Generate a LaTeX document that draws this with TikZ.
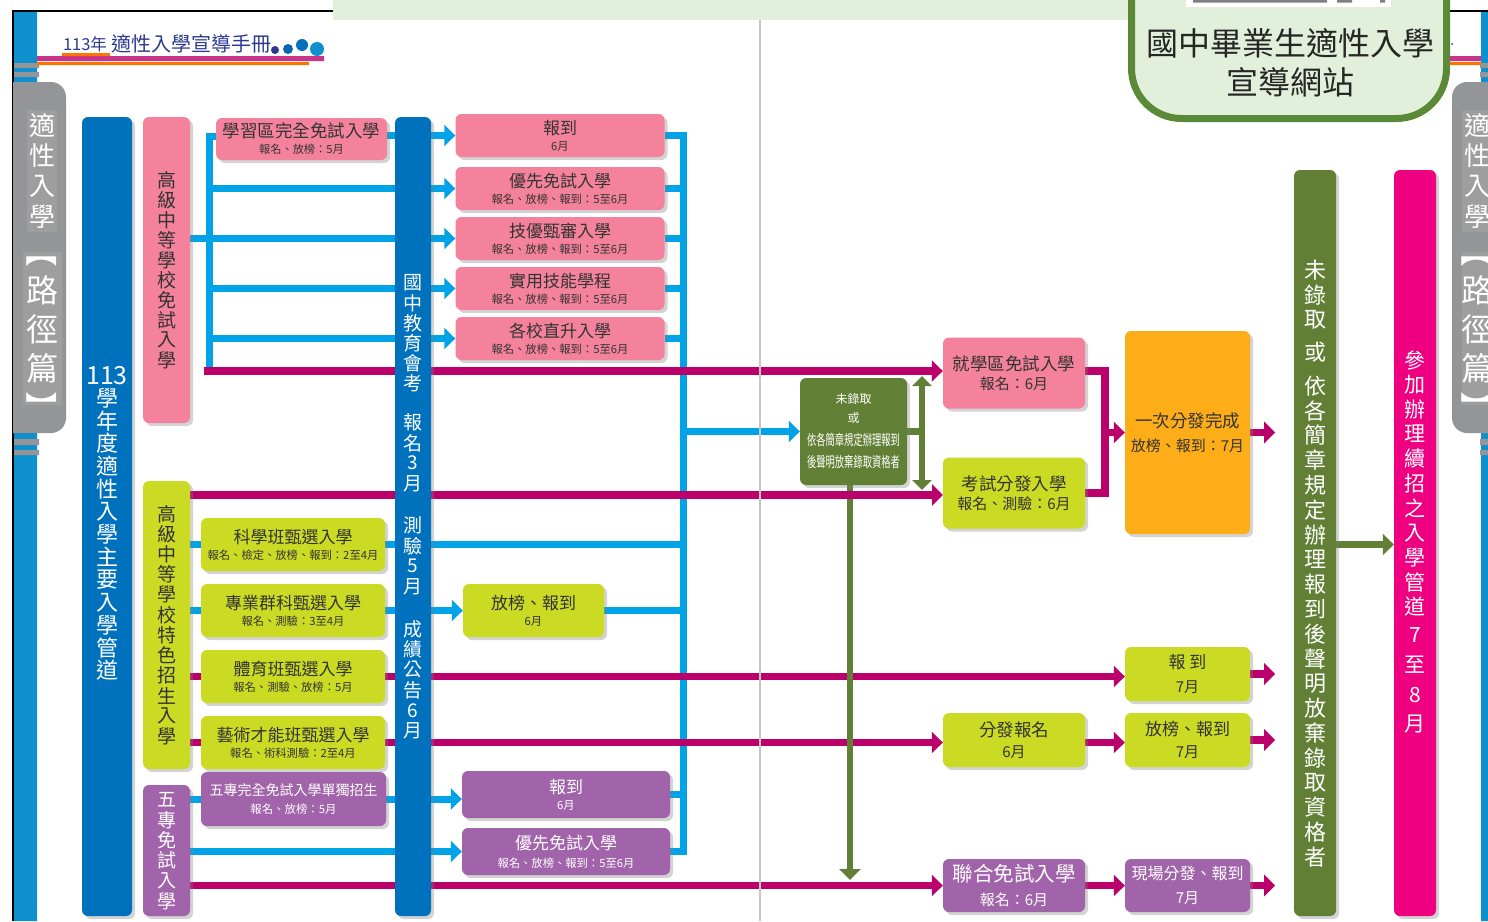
\documentclass[tikz,border=0pt]{standalone}
\usepackage{fontspec}
\setmainfont{Noto Sans CJK TC}
\usetikzlibrary{arrows.meta,backgrounds,shadows}

\definecolor{wireblue}{HTML}{00A3E8}
\definecolor{wirepink}{HTML}{BB006B}
\definecolor{wiregreen}{HTML}{628035}
\definecolor{colblue}{HTML}{0071BC}
\definecolor{boxpink}{HTML}{F4829C}
\definecolor{boxlime}{HTML}{CBDB24}
\definecolor{boxpurple}{HTML}{A163A9}
\definecolor{boxorange}{HTML}{FDAD17}
\definecolor{colpink}{HTML}{EE0080}
\definecolor{tabgray}{HTML}{949598}
\definecolor{tablight}{HTML}{9E9E9F}
\definecolor{stripblue}{HTML}{0E90CF}
\definecolor{titlegreen}{HTML}{E2EFDA}
\definecolor{titleedge}{HTML}{5A8A38}
\definecolor{logoblue}{HTML}{2B3990}

\makeatletter
\newcommand\vstack[2]{\vbox{\offinterlineskip\@tfor\vch:=#2\do{\vbox to #1{\vss\hbox to #1{\hss\vch\hss}\vss}}}}
\makeatother
\newcommand\sizept[1]{\fontsize{#1}{#1}\selectfont}
\newcommand\entry[5][4pt]{{\sizept{#2}#3}\\[#1]{\sizept{#4}#5}}

\begin{document}
\begin{tikzpicture}[x=1pt,y=-1pt,
  boxnode/.style={rectangle,rounded corners=6pt,inner sep=0pt,align=center,text=black!80,
    drop shadow={shadow xshift=3pt,shadow yshift=-3pt,fill=gray,opacity=.35}},
  pinkbox/.style={boxnode,fill=boxpink},
  limebox/.style={boxnode,fill=boxlime},
  purplebox/.style={boxnode,fill=boxpurple,text=white},
  sized/.style n args={2}{minimum width=#1,minimum height=#2},
  collabel/.style={inner sep=0pt,text=white},
  tablabel/.style={inner sep=0pt,text=white},
  bluewire/.style={draw=wireblue,line width=7pt},
  bluearrow/.style={bluewire,-{Triangle[length=11pt,width=21pt]}},
  pinkwire/.style={draw=wirepink,line width=7.5pt},
  pinkarrow/.style={pinkwire,-{Triangle[length=11pt,width=21pt]}},
  greenwire/.style={draw=wiregreen,line width=6.5pt},
  greenarrow/.style={greenwire,-{Triangle[length=11pt,width=21pt]}}]
\useasboundingbox (0,0) rectangle (1488,921);

% page furniture
\fill[stripblue] (14,12) rectangle (37,921) (1481,12) rectangle (1488,921);
\fill[tabgray] (14,63) rectangle (39,68) (14,72) rectangle (39,77)
  (14,439) rectangle (39,445) (14,450) rectangle (39,455)
  (1480,63) rectangle (1488,68) (1480,72) rectangle (1488,77)
  (1480,439) rectangle (1488,445) (1480,450) rectangle (1488,455);
\draw[black,line width=1.5pt] (13,921) -- (13,11) -- (334,11) (1450,11) -- (1488,11);
\fill[tabgray] (13,82) [rounded corners=15pt] -- (66,82) -- (66,433) [sharp corners] -- (13,433) -- cycle;
\fill[tabgray] (1488,82) [rounded corners=15pt] -- (1452,82) -- (1452,433) [sharp corners] -- (1488,433) -- cycle;
\fill[tablight] (27,110) rectangle (57,232) (23,252) rectangle (62,405)
  (1462,110) rectangle (1488,232) (1462,252) rectangle (1488,405);
\fill[wirepink!80] (37,56) rectangle (324,61) (1450,56) rectangle (1481,61);
\fill[orange!90!red] (37,62) rectangle (309,65) (62,53) rectangle (110,56) (1450,62) rectangle (1481,65);
\fill[logoblue] (275,50) circle (4) (1452,44) circle (1);
\fill[colblue!80!logoblue] (288,49) circle (5);
\fill[colblue] (302,45) circle (6);
\fill[stripblue] (317,49) circle (7);

\path
(85,44) node[inner sep=0pt,text=logoblue,font=\sizept{16.5}] (logoyear) {113年}
(191,44) node[inner sep=0pt,text=logoblue,font=\sizept{20}] (logotitle) {適性入學宣導手冊}

(42,171) node[tablabel,font=\sizept{26}] (tabtop) {\vstack{30.5pt}{適性入學}}
(42,329) node[tablabel,font=\sizept{32}] (tabpath) {\vstack{39pt}{{\rotatebox{-90}{【}}路徑篇{\rotatebox{-90}{】}}}}
(1477,171) node[tablabel,font=\sizept{26}] (tabtopr) {\vstack{30.5pt}{適性入學}}
(1477,329) node[tablabel,font=\sizept{32}] (tabpathr) {\vstack{39pt}{{\rotatebox{-90}{【}}路徑篇{\rotatebox{-90}{】}}}};

% title banner
\fill[titlegreen] (333,0) rectangle (1130,20);
\fill[titlegreen,draw=titleedge,line width=7pt,rounded corners=50pt] (1131.5,-80) rectangle (1446.5,118.5);
\fill[white] (1186,0) rectangle (1391,7);
\fill[gray] (1193,0) rectangle (1327,2.5) (1337,0) rectangle (1352,2.5) (1380,0) rectangle (1385,2.5);
\path
(1290,43) node[inner sep=0pt,text=black!85,font=\sizept{32}] (bannerone) {國中畢業生適性入學}
(1290,82) node[inner sep=0pt,text=black!85,font=\sizept{32}] (bannertwo) {宣導網站};

\path
% columns
(107,516.5) node[boxnode,fill=colblue,sized={50pt}{799pt}] (maincol) {}
(413,516.5) node[boxnode,fill=colblue,sized={36pt}{799pt}] (midcol) {}
(166.5,270) node[pinkbox,sized={47pt}{306pt},font=\sizept{19}] (col2) {\vstack{20pt}{高級中等學校免試入學}}
(166.5,625) node[limebox,sized={47pt}{288pt},font=\sizept{19}] (col3) {\vstack{20.2pt}{高級中等學校特色招生入學}}
(166.5,850.5) node[purplebox,sized={47pt}{131pt},font=\sizept{19}] (col4) {\raisebox{-2pt}{\vstack{20.2pt}{五專免試入學}}}
(1315,543) node[boxnode,fill=wiregreen,sized={42pt}{746pt}] (tallgreen) {}
(1415,543) node[boxnode,fill=colpink,sized={42pt}{746pt}] (tallpink) {}

(107,523) node[collabel,font=\sizept{22}] (mainlabel) {\vstack{22.7pt}{{\sizept{25}113}學年度適性入學主要入學管道}}
(413,333) node[collabel,font=\sizept{19}] (midone) {\vstack{20pt}{國中教育會考}}
(413,453) node[collabel,font=\sizept{19}] (midtwo) {\vstack{20.3pt}{報名3月}}
(413,556) node[collabel,font=\sizept{19}] (midthree) {\vstack{20.3pt}{測驗5月}}
(413,680) node[collabel,font=\sizept{19}] (midfour) {\vstack{20.3pt}{成績公告6月}}
(1315,295) node[collabel,font=\sizept{22}] (greenone) {\vstack{24.7pt}{未錄取}}
(1315,352) node[collabel,font=\sizept{22}] (greentwo) {或}
(1315,621.5) node[collabel,font=\sizept{22}] (greenthree) {\vstack{24.8pt}{依各簡章規定辦理報到後聲明放棄錄取資格者}}
(1415,483.5) node[collabel,font=\sizept{21}] (pinkone) {\vstack{24.7pt}{參加辦理續招之入學管道}}
(1415,680) node[collabel,font=\sizept{21}] (pinktwo) {\vstack{29.7pt}{7至8月}}

% free-admission boxes
(301.5,139) node[pinkbox,sized={171pt}{42pt}] (xuexi) {\entry{17.5}{學習區完全免試入學}{11.2}{報名、放榜：5月}}
(560,135.5) node[pinkbox,sized={209pt}{43pt}] (r1) {\entry{17}{報到}{11.3}{6月}}
(560,188.5) node[pinkbox,sized={209pt}{43pt}] (r2) {\entry{17}{優先免試入學}{11.3}{報名、放榜、報到：5至6月}}
(560,238.5) node[pinkbox,sized={209pt}{43pt}] (r3) {\entry{17}{技優甄審入學}{11.3}{報名、放榜、報到：5至6月}}
(560,288.5) node[pinkbox,sized={209pt}{43pt}] (r4) {\entry{17}{實用技能學程}{11.3}{報名、放榜、報到：5至6月}}
(560,338.5) node[pinkbox,sized={209pt}{43pt}] (r5) {\entry{17}{各校直升入學}{11.3}{報名、放榜、報到：5至6月}}

% special-entry boxes
(293,544.5) node[limebox,sized={184pt}{53pt}] (s1) {\entry{17}{科學班甄選入學}{11.3}{報名、檢定、放榜、報到：2至4月}}
(293,610.5) node[limebox,sized={184pt}{53pt}] (s2) {\entry{17}{專業群科甄選入學}{11.3}{報名、測驗：3至4月}}
(293,676.5) node[limebox,sized={184pt}{53pt}] (s3) {\entry{17}{體育班甄選入學}{11.3}{報名、測驗、放榜：5月}}
(293,742.5) node[limebox,sized={184pt}{53pt}] (s4) {\entry{17}{藝術才能班甄選入學}{11.3}{報名、術科測驗：2至4月}}
(533.5,610.5) node[limebox,sized={141pt}{53pt}] (fang) {\entry{17}{放榜、報到}{11.3}{6月}}

% five-year boxes
(293.5,799) node[purplebox,sized={185pt}{54pt}] (p0) {\entry[6pt]{14}{五專完全免試入學單獨招生}{11.4}{報名、放榜：5月}}
(566,794.5) node[purplebox,sized={208pt}{47pt}] (p1) {\entry{17}{報到}{11.3}{6月}}
(566,851.5) node[purplebox,sized={208pt}{47pt}] (p2) {\entry[6pt]{17}{優先免試入學}{11.3}{報名、放榜、報到：5至6月}}

% right half
(853.5,431.5) node[boxnode,fill=wiregreen,text=white,sized={107pt}{107pt}] (nopass)
  {\sizept{12}未錄取\\[7pt]\sizept{12}或\\[8pt]\scalebox{.64}[1]{\sizept{14.5}依各簡章規定辦理報到}\\[8pt]\scalebox{.64}[1]{\sizept{14.5}後聲明放棄錄取資格者}}
(1014,373) node[pinkbox,sized={142pt}{71pt}] (jiu) {\entry{17.5}{就學區免試入學}{15}{報名：6月}}
(1014,493) node[limebox,sized={142pt}{71pt}] (kao) {\entry{17.5}{考試分發入學}{15}{報名、測驗：6月}}
(1187.5,432.5) node[boxnode,fill=boxorange,sized={125pt}{203pt}] (once) {\entry[9pt]{17.5}{一次分發完成}{15}{放榜、報到：7月}}
(1187.5,674) node[limebox,sized={125pt}{54pt}] (bao) {\entry[9pt]{17}{報 到}{15}{7月}}
(1187.5,740) node[limebox,sized={125pt}{54pt}] (fang2) {\entry[7pt]{17}{放榜、報到}{15}{7月}}
(1014,740) node[limebox,sized={142pt}{54pt}] (fen) {\entry[7pt]{17.5}{分發報名}{15}{6月}}
(1014,885.5) node[purplebox,sized={142pt}{53pt}] (lian) {\entry[8pt]{20.5}{聯合免試入學}{15}{報名：6月}}
(1187.5,885.5) node[purplebox,sized={125pt}{53pt}] (xian) {\entry[10pt]{16}{現場分發、報到}{15}{7月}}
;

\coordinate (busleft) at (209,136);
\coordinate (busleftend) at (209,371);
\coordinate (busright) at (683,136);
\coordinate (magstart) at (204,371);
\coordinate (rowkao) at (943,495);
\coordinate (elbow) at (1105,432.5);
\coordinate (uptop) at (922,376);
\coordinate (upend) at (922,490);
\coordinate (downend) at (850,880);
\foreach \name in {once,bao,fang2,xian}
  \path (\name.east) ++(25,0) coordinate (\name-out);

\begin{scope}[on background layer]
% blue first
\draw[bluewire] (xuexi.west |- busleft) -- (busleft) -- (busleftend);
\draw[bluewire] (xuexi.east |- r1) -- (midcol.west |- r1);
\foreach \name in {r2,r4,r5}
  \draw[bluewire] (busleft |- \name) -- (midcol.west |- \name);
\draw[bluewire] (col2.east |- r3) -- (midcol.west |- r3);
\foreach \name in {r1,r2,r3,r4,r5}{
  \draw[bluearrow] (midcol.east |- \name) -- (\name.west);
  \draw[bluewire] (\name.east) -- (\name.east -| busright);
}
\draw[bluewire] (r1.east) -| (busright |- p2) -- (p2.east);
\draw[bluearrow] (busright |- nopass) -- (nopass.west);
\draw[bluewire] (col3.east |- s1) -- (s1.west);
\draw[bluewire] (s1.east) -- (midcol.west |- s1);
\draw[bluewire] (midcol.east |- s1) -- (busright |- s1);
\draw[bluewire] (col3.east |- s2) -- (s2.west);
\draw[bluewire] (s2.east) -- (midcol.west |- s2);
\draw[bluearrow] (midcol.east |- s2) -- (fang.west);
\draw[bluewire] (fang.east) -- (busright |- fang);
\draw[bluewire] (col4.east |- p0) -- (p0.west);
\draw[bluewire] (p0.east) -- (midcol.west |- p0);
\draw[bluearrow] (midcol.east |- p0) -- (p1.west |- p0);
\draw[bluewire] (p1.east) -- (busright |- p1);
\draw[bluewire] (col4.east |- p2) -- (midcol.west |- p2);
\draw[bluearrow] (midcol.east |- p2) -- (p2.west);

% these two rows pass under the green line
\draw[pinkwire] (col3.east |- s3) -- (s3.west);
\draw[pinkwire] (s3.east) -- (midcol.west |- s3);
\draw[pinkarrow] (midcol.east |- s3) -- (bao.west |- s3);
\draw[pinkwire] (col3.east |- s4) -- (s4.west);
\draw[pinkwire] (s4.east) -- (midcol.west |- s4);
\draw[pinkarrow] (midcol.east |- s4) -- (fen.west |- s4);
\draw[pinkarrow] (fen.east |- s4) -- (fang2.west |- s4);

\draw[greenarrow] (downend |- nopass.south) -- (downend);
\draw[greenwire] (nopass.east) -- (uptop |- nopass);
\draw[greenwire,{Triangle[length=10pt,width=19pt]}-{Triangle[length=10pt,width=19pt]}] (uptop) -- (upend);
\draw[greenarrow] (tallgreen.east |- s1) -- (tallpink.west |- s1);

\draw[pinkwire] (magstart) -- (midcol.west |- magstart);
\draw[pinkarrow] (midcol.east |- magstart) -- (jiu.west |- magstart);
\draw[pinkwire] (col3.east |- rowkao) -- (midcol.west |- rowkao);
\draw[pinkarrow] (midcol.east |- rowkao) -- (rowkao);
\draw[pinkwire] (col4.east |- lian) -- (midcol.west |- lian);
\draw[pinkarrow] (midcol.east |- lian) -- (lian.west);
\draw[pinkarrow] (lian.east) -- (xian.west);
\draw[pinkwire] (jiu.east |- magstart) -| (elbow) |- (kao.east);
\draw[pinkarrow] (elbow) -- (once.west);
\foreach \name in {once,bao,fang2,xian}
  \draw[pinkarrow] (\name.east) -- (\name-out);

% page fold
\draw[gray!45,line width=2pt] (759.5,20) -- (759.5,921);
\end{scope}
\end{tikzpicture}
\end{document}
